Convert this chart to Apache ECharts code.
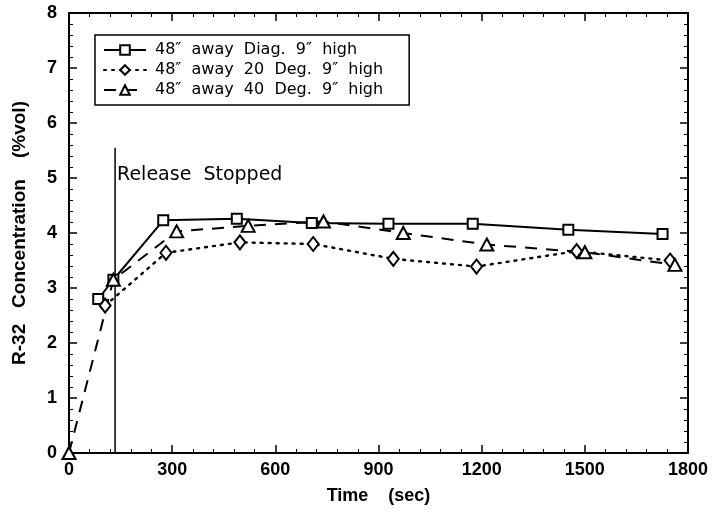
<!DOCTYPE html>
<html>
<head>
<meta charset="utf-8">
<script src="https://cdn.jsdelivr.net/npm/echarts@6/dist/echarts.min.js"></script>
<style>html,body{margin:0;padding:0;background:#fff}#c{width:715px;height:514px}</style>
</head>
<body>
<div id="c"></div>
<script>
const seriesNames = ['48\u2033  away  Diag.  9\u2033  high', '48\u2033  away  20  Deg.  9\u2033  high', '48\u2033  away  40  Deg.  9\u2033  high'];
const timeSq = [85, 129, 274, 488, 706, 929, 1174, 1452, 1726];
const valSq  = [2.80, 3.15, 4.23, 4.26, 4.18, 4.17, 4.17, 4.06, 3.98];
const timeDi = [105, 282, 497, 710, 943, 1185, 1476, 1748];
const valDi  = [2.68, 3.64, 3.83, 3.80, 3.53, 3.39, 3.67, 3.50];
const timeTr = [0, 129, 313, 521, 740, 972, 1215, 1500, 1762];
const valTr  = [0, 3.15, 4.03, 4.13, 4.21, 4.00, 3.79, 3.65, 3.42];
const releaseTime = 134;
const releaseTop = 5.55;
const releaseText = 'Release  Stopped';
const xTicks = [0, 300, 600, 900, 1200, 1500, 1800];
const yTicks = [0, 1, 2, 3, 4, 5, 6, 7, 8];
const xTitle = 'Time    (sec)';
const yTitle = 'R-32   Concentration    (%vol)';

const zip = (a, b) => a.map((v, i) => [v, b[i]]);
const FONT = 'Liberation Sans';
const chart = echarts.init(document.getElementById('c'), null, {renderer: 'canvas'});

const axisCommon = {
  type: 'value',
  axisLine: {show: true, onZero: false, lineStyle: {color: '#000', width: 2}},
  axisTick: {show: true, inside: true, length: 8, lineStyle: {color: '#000', width: 1.5}},
  minorTick: {show: true, splitNumber: 5, length: 4, lineStyle: {color: '#000', width: 1}},
  splitLine: {show: false},
  minorSplitLine: {show: false}
};

const option = {
  animation: false,
  backgroundColor: '#fff',
  grid: {left: 69, right: 27, top: 13, bottom: 61},
  legend: {
    orient: 'vertical',
    left: 95, top: 35,
    data: seriesNames,
    itemWidth: 42, itemHeight: 12, itemGap: 4,
    borderColor: '#000', borderWidth: 1.5, borderRadius: 0,
    padding: [7, 26, 7, 8],
    textStyle: {fontFamily: 'DejaVu Sans', fontSize: 16, color: '#000', padding: [0, 0, 0, 4]}
  },
  xAxis: [
    Object.assign({}, axisCommon, {
      min: 0, max: 1800, interval: 300, position: 'bottom',
      name: xTitle, nameLocation: 'middle', nameGap: 34,
      nameTextStyle: {fontFamily: FONT, fontSize: 18, fontWeight: 'bold', color: '#000'},
      axisLabel: {fontFamily: FONT, fontSize: 18, fontWeight: 'bold', color: '#000', margin: 8,
        formatter: v => xTicks.includes(v) ? String(v) : ''}
    }),
    Object.assign({}, axisCommon, {
      min: 0, max: 1800, interval: 300, position: 'top', axisLabel: {show: false}
    })
  ],
  yAxis: [
    Object.assign({}, axisCommon, {
      min: 0, max: 8, interval: 1, position: 'left',
      name: yTitle, nameLocation: 'middle', nameGap: 40,
      nameTextStyle: {fontFamily: FONT, fontSize: 19, fontWeight: 'bold', color: '#000'},
      axisLabel: {fontFamily: FONT, fontSize: 18, fontWeight: 'bold', color: '#000', margin: 12,
        formatter: v => yTicks.includes(v) ? String(v) : ''}
    }),
    Object.assign({}, axisCommon, {
      min: 0, max: 8, interval: 1, position: 'right', axisLabel: {show: false}
    })
  ],
  series: [
    {
      name: seriesNames[0], type: 'line', data: zip(timeSq, valSq),
      symbol: 'rect', symbolSize: 10,
      lineStyle: {color: '#000', width: 2, type: 'solid'},
      itemStyle: {color: '#fff', borderColor: '#000', borderWidth: 2},
      z: 3
    },
    {
      name: seriesNames[1], type: 'line', data: zip(timeDi, valDi),
      symbol: 'diamond', symbolSize: [11, 14],
      lineStyle: {color: '#000', width: 2.4, type: [2, 6], cap: 'round'},
      itemStyle: {color: '#fff', borderColor: '#000', borderWidth: 2},
      z: 3
    },
    {
      name: seriesNames[2], type: 'line', data: zip(timeTr, valTr),
      symbol: 'triangle', symbolSize: [13, 12],
      lineStyle: {color: '#000', width: 2, type: [12, 9]},
      itemStyle: {color: '#fff', borderColor: '#000', borderWidth: 2},
      z: 3
    },
    {
      name: 'release', type: 'line', data: [[releaseTime, 0], [releaseTime, releaseTop]],
      symbol: 'none', silent: true,
      lineStyle: {color: '#000', width: 1.5},
      z: 2
    }
  ]
};
chart.setOption(option);

const p = chart.convertToPixel({xAxisIndex: 0, yAxisIndex: 0}, [releaseTime, releaseTop]);
chart.setOption({
  graphic: [{
    type: 'text', left: p[0] + 2, top: p[1] + 18,
    style: {text: releaseText, font: '19px "DejaVu Sans"', fill: '#000'}
  }]
});
</script>
</body>
</html>
